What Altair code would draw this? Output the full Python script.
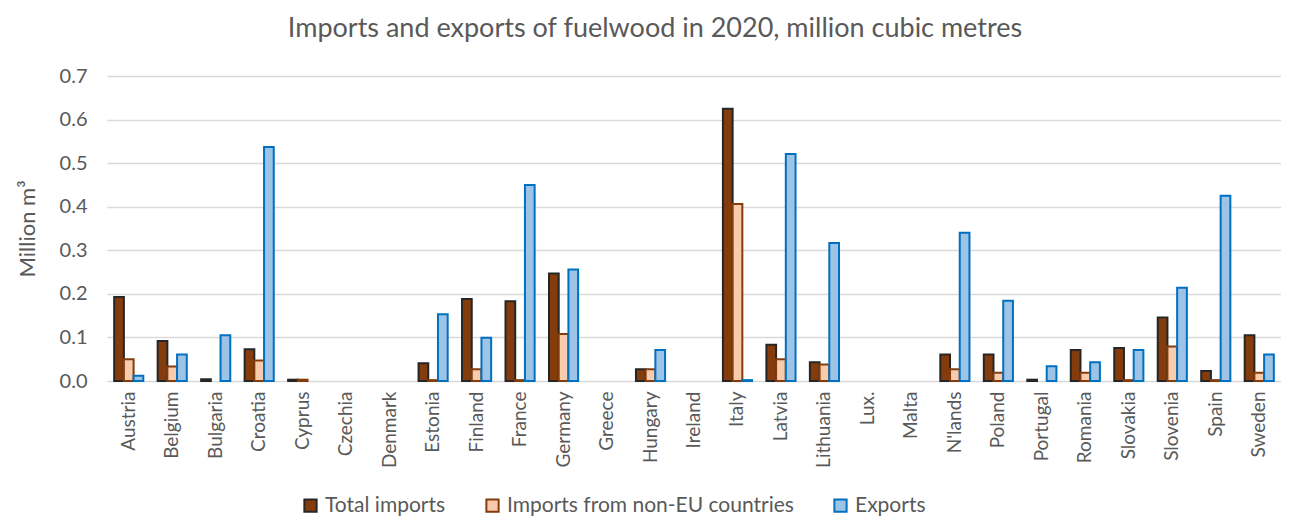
import altair as alt
import pandas as pd

countries = ["Austria", "Belgium", "Bulgaria", "Croatia", "Cyprus", "Czechia", "Denmark",
             "Estonia", "Finland", "France", "Germany", "Greece", "Hungary", "Ireland",
             "Italy", "Latvia", "Lithuania", "Lux.", "Malta", "N'lands", "Poland",
             "Portugal", "Romania", "Slovakia", "Slovenia", "Spain", "Sweden"]
total_imports = [0.193, 0.092, 0.004, 0.073, 0.003, 0.0, 0.0,
                 0.041, 0.188, 0.183, 0.247, 0.0, 0.027, 0.0,
                 0.625, 0.083, 0.043, 0.0, 0.0, 0.061, 0.061,
                 0.003, 0.071, 0.076, 0.146, 0.023, 0.105]
nonEU_imports = [0.050, 0.033, 0.0, 0.047, 0.003, 0.0, 0.0,
                 0.002, 0.027, 0.002, 0.108, 0.0, 0.027, 0.0,
                 0.406, 0.050, 0.038, 0.0, 0.0, 0.027, 0.019,
                 0.0, 0.019, 0.002, 0.079, 0.002, 0.019]
exports = [0.012, 0.061, 0.105, 0.537, 0.0, 0.0, 0.0,
           0.153, 0.099, 0.450, 0.256, 0.0, 0.071, 0.0,
           0.002, 0.521, 0.317, 0.0, 0.0, 0.340, 0.184,
           0.034, 0.043, 0.071, 0.214, 0.425, 0.061]
series = ["Total imports", "Imports from non-EU countries", "Exports"]
fill_colors = ["#843C0C", "#F8CBAD", "#9DC3E6"]
stroke_colors = ["#262626", "#843C0C", "#0070C0"]
y_ticks = [0.0, 0.1, 0.2, 0.3, 0.4, 0.5, 0.6, 0.7]

rows = []
for i, c in enumerate(countries):
    for s, vals in zip(series, [total_imports, nonEU_imports, exports]):
        rows.append({"country": c, "series": s, "value": vals[i]})
df = pd.DataFrame(rows)

FONT = "Lato"
GREY = "#595959"

legend_opts = dict(title=None, orient="none", direction="horizontal",
                   legendX=193, legendY=419, symbolType="square",
                   symbolSize=150, symbolStrokeWidth=2, labelFontSize=21,
                   labelColor=GREY, labelFont=FONT, columnPadding=36,
                   symbolOffset=0, labelOffset=4, labelLimit=500)

chart = alt.Chart(df).transform_filter(
    alt.datum.value > 0
).mark_bar(strokeWidth=2).encode(
    x=alt.X("country:N", sort=countries,
            scale=alt.Scale(domain=countries, paddingInner=0.33, paddingOuter=0.165),
            axis=alt.Axis(title=None, labelAngle=-90, labelFontSize=19, labelColor=GREY,
                          labelFont=FONT, ticks=False, domain=False, labelPadding=10)),
    xOffset=alt.XOffset("series:N", sort=series, scale=alt.Scale(domain=series, paddingInner=0, paddingOuter=0)),
    y=alt.Y("value:Q", scale=alt.Scale(domain=[0, 0.7], nice=False),
            axis=alt.Axis(title="Million m³", values=y_ticks, format=".1f", labelFontSize=20,
                          labelColor=GREY, labelFont=FONT, titleFont=FONT, titleFontSize=22,
                          titleFontWeight="normal", titleColor=GREY, titlePadding=20,
                          labelPadding=20, ticks=False, domain=False, gridColor="#D9D9D9",
                          gridWidth=1.5)),
    fill=alt.Fill("series:N", sort=series,
                  scale=alt.Scale(domain=series, range=fill_colors),
                  legend=alt.Legend(**legend_opts)),
    stroke=alt.Stroke("series:N", sort=series,
                      scale=alt.Scale(domain=series, range=stroke_colors),
                      legend=alt.Legend(**legend_opts)),
).properties(
    width=1174, height=305,
    title=alt.TitleParams("Imports and exports of fuelwood in 2020, million cubic metres",
                          font=FONT, fontSize=27, fontWeight="normal", color=GREY,
                          dx=-39, offset=23),
    autosize=alt.AutoSizeParams(type="none"),
    padding={"left": 99, "top": 68, "right": 0, "bottom": 140},
).configure_view(stroke=None)

chart.save("out.html", embed_options={"renderer": "svg", "actions": False})
